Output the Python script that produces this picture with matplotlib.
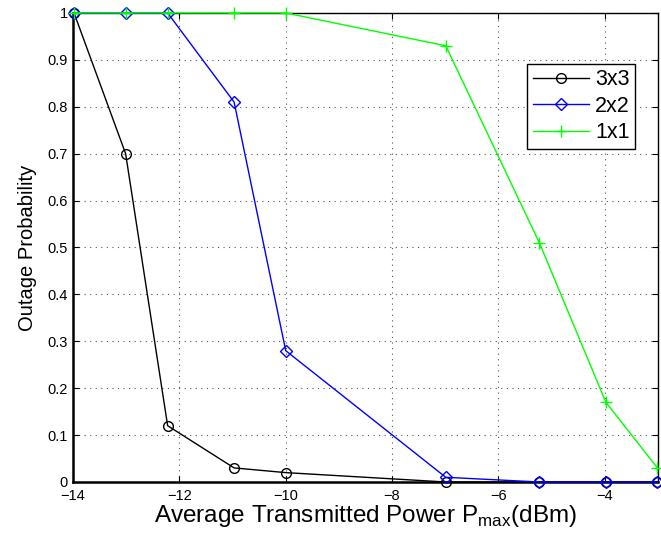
import matplotlib
matplotlib.use("Agg")
import matplotlib.pyplot as plt

plt.rcParams["font.family"] = ["Liberation Sans", "DejaVu Sans"]

# transmit power in dBm (0.04 ... 0.5 mW)
power_dbm = [-13.98, -13.01, -12.22, -10.97, -10.0, -6.99, -5.23, -3.98, -3.01]

outage_3x3 = [1.0, 0.70, 0.12, 0.03, 0.02, 0.0, 0.0, 0.0, 0.0]
outage_2x2 = [1.0, 1.0, 1.0, 0.81, 0.28, 0.01, 0.0, 0.0, 0.0]
outage_1x1 = [1.0, 1.0, 1.0, 1.0, 1.0, 0.93, 0.51, 0.17, 0.03]

xticks = [-14, -12, -10, -8, -6, -4]
yticks = [0, 0.1, 0.2, 0.3, 0.4, 0.5, 0.6, 0.7, 0.8, 0.9, 1.0]
ytick_labels = ["0", "0.1", "0.2", "0.3", "0.4", "0.5", "0.6",
                "0.7", "0.8", "0.9", "1"]

fig = plt.figure(figsize=(6.61, 5.33), dpi=100)
ax = fig.add_axes([0.1104, 0.0957, 0.885, 0.880])

ax.plot(power_dbm, outage_3x3, "-o", color="black", lw=1, ms=7,
        mfc="none", mew=1, label="3x3", clip_on=False, zorder=3)
ax.plot(power_dbm, outage_2x2, "-D", color="blue", lw=1, ms=6,
        mfc="none", mew=1, label="2x2", clip_on=False, zorder=4)
ax.plot(power_dbm, outage_1x1, "-+", color="#00ff00", lw=1, ms=8,
        mew=1, label="1x1", clip_on=False, zorder=5)

ax.set_xlim(-14, -3)
ax.set_ylim(0, 1)
ax.set_xticks(xticks)
ax.set_yticks(yticks)
ax.set_yticklabels(ytick_labels)
ax.tick_params(direction="in", length=4, labelsize=10.5, width=0.8,
               top=True, right=True)
ax.tick_params(axis="x", pad=5)
ax.grid(True, ls=(0, (1, 4)), color="#555555", lw=0.8)

for side in ("left", "bottom"):
    ax.spines[side].set_linewidth(1.8)
for side in ("top", "right"):
    ax.spines[side].set_linewidth(1.0)

ax.set_xlabel("Average Transmitted Power P$_{\\mathregular{max}}$(dBm)",
              fontsize=17.5, labelpad=0)
ax.set_ylabel("Outage Probability", fontsize=14.5, labelpad=8)

leg = ax.legend(loc="upper right", bbox_to_anchor=(0.961, 0.891),
                fontsize=15.5, fancybox=False, framealpha=1,
                edgecolor="black", handlelength=2.6, borderpad=0.25,
                labelspacing=0.25, handletextpad=0.3, borderaxespad=0)
leg.get_frame().set_linewidth(1.0)

fig.savefig("out.png", dpi=100)
